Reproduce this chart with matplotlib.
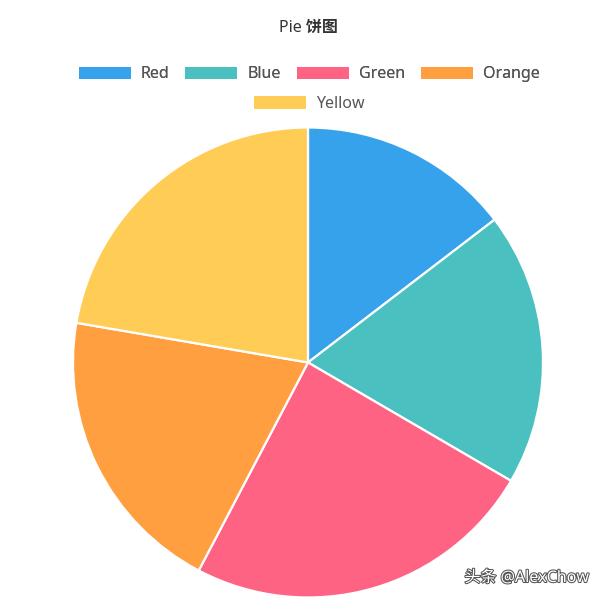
import matplotlib
matplotlib.use("Agg")
import matplotlib.pyplot as plt
from matplotlib.patches import Patch
import matplotlib.patheffects as pe

labels = ["Red", "Blue", "Green", "Orange", "Yellow"]
values = [14.6, 18.8, 24.3, 20.0, 22.3]
colors = ["#36A2EB", "#4BC0C0", "#FF6384", "#FF9F40", "#FFCD56"]
title = "Pie 饼图"
watermark = "头条 @AlexChow"

plt.rcParams['font.family'] = ['Noto Sans', 'Noto Sans CJK SC', 'DejaVu Sans']

W, H = 602, 600
fig = plt.figure(figsize=(W / 100, H / 100), dpi=100)
fig.patch.set_facecolor("white")

cx, cy, r = 308, 362.5, 235
ax = fig.add_axes([(cx - r) / W, (H - cy - r) / H, 2 * r / W, 2 * r / H])
ax.pie(values, colors=colors, startangle=90, counterclock=False, radius=1,
       wedgeprops=dict(edgecolor="white", linewidth=1.6))
ax.set_xlim(-1.0, 1.0)
ax.set_ylim(-1.0, 1.0)
ax.set_aspect("equal")
ax.axis("off")

fig.text(cx / W, 1 - 28 / H, title, ha="center", va="center",
         fontsize=11.5, fontweight="bold", color="#333333")

fs = 11.5
px = fs * 100 / 72
handles = [Patch(facecolor=c, edgecolor="none") for c in colors]
leg_kw = dict(frameon=False, fontsize=fs, handlelength=52 / px, handleheight=13 / px,
              handletextpad=10 / px, columnspacing=16 / px, labelcolor="#555555",
              borderpad=0, borderaxespad=0)
leg1 = fig.legend(handles[:4], labels[:4], ncol=4, loc="center",
                  bbox_to_anchor=(309 / W, 1 - 74.5 / H), **leg_kw)
fig.add_artist(leg1)
leg2 = fig.legend(handles[4:], labels[4:], ncol=1, loc="center",
                  bbox_to_anchor=(309 / W, 1 - 104 / H), **leg_kw)

fig.text(589 / W, 1 - 578 / H, watermark, ha="right", va="center",
         fontsize=11.5, color="white",
         path_effects=[pe.withStroke(linewidth=1.5, foreground="#555555")])

fig.savefig("out.png", dpi=100, facecolor="white")
